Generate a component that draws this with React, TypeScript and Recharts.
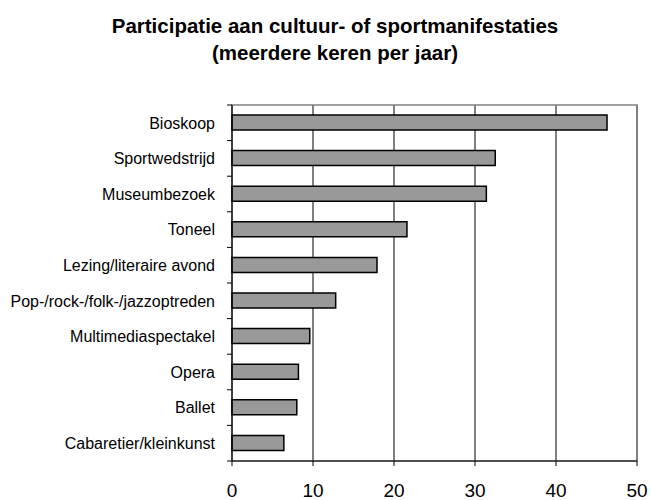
import { BarChart, Bar, XAxis, YAxis, CartesianGrid, ReferenceArea } from "recharts";

const categories = [
  "Bioskoop",
  "Sportwedstrijd",
  "Museumbezoek",
  "Toneel",
  "Lezing/literaire avond",
  "Pop-/rock-/folk-/jazzoptreden",
  "Multimediaspectakel",
  "Opera",
  "Ballet",
  "Cabaretier/kleinkunst",
];
const values = [46.3, 32.5, 31.4, 21.6, 17.9, 12.8, 9.6, 8.2, 8.0, 6.4];
const xTicks = [0, 10, 20, 30, 40, 50];

const titleLines = [
  "Participatie aan cultuur- of sportmanifestaties",
  "(meerdere keren per jaar)",
];

const font = "'Liberation Sans', Arial, sans-serif";

const W = 651;
const H = 500;
const AXIS_W = 232;
const TOP = 105;
const BOTTOM_PX = 461;
const BAND = (BOTTOM_PX - TOP) / categories.length;

const data = categories.map((c, i) => ({ name: c, value: values[i] }));

function CatTick(props: any) {
  const { x, y, payload, index } = props;
  const last = index === categories.length - 1;
  return (
    <g>
      <text
        x={x}
        y={y}
        dy="0.36em"
        textAnchor="end"
        fontSize={16}
        fontFamily={font}
        fill="#000"
      >
        {payload.value}
      </text>
      <line x1={AXIS_W - 5} x2={AXIS_W} y1={y - BAND / 2} y2={y - BAND / 2} stroke="#000" />
      {last && (
        <line x1={AXIS_W - 5} x2={AXIS_W} y1={y + BAND / 2} y2={y + BAND / 2} stroke="#000" />
      )}
    </g>
  );
}

export default function App() {
  return (
    <div style={{ position: "relative", width: W, height: H, overflow: "hidden" }}>
      <style>{`body { margin: 0; }`}</style>
      <div
        style={{
          position: "absolute",
          left: 0,
          width: 670,
          top: 12,
          textAlign: "center",
          fontFamily: font,
          fontWeight: "bold",
          fontSize: 20.5,
          lineHeight: "27px",
          color: "#000",
          zIndex: 1,
        }}
      >
        {titleLines.map((t) => (
          <div key={t}>{t}</div>
        ))}
      </div>
      <BarChart
        width={W}
        height={H}
        data={data}
        layout="vertical"
        margin={{ top: TOP, right: 14, bottom: 4, left: 0 }}
        barCategoryGap={0}
      >
        <CartesianGrid horizontal={false} stroke="#000" strokeOpacity={1} />
        <ReferenceArea x1={0} x2={50} fill="none" stroke="#808080" strokeWidth={1.5} />
        <XAxis
          type="number"
          domain={[0, 50]}
          ticks={xTicks}
          height={35}
          tickSize={5}
          tickMargin={18}
          stroke="#000"
          tick={{ fontSize: 19, fontFamily: font, fill: "#000" }}
        />
        <YAxis
          type="category"
          dataKey="name"
          width={AXIS_W}
          tickLine={false}
          tickSize={5}
          tickMargin={12}
          stroke="#000"
          tick={<CatTick />}
          interval={0}
        />
        <Bar
          dataKey="value"
          fill="#999999"
          stroke="#000"
          strokeWidth={1.5}
          barSize={15}
          isAnimationActive={false}
        />
      </BarChart>
    </div>
  );
}
